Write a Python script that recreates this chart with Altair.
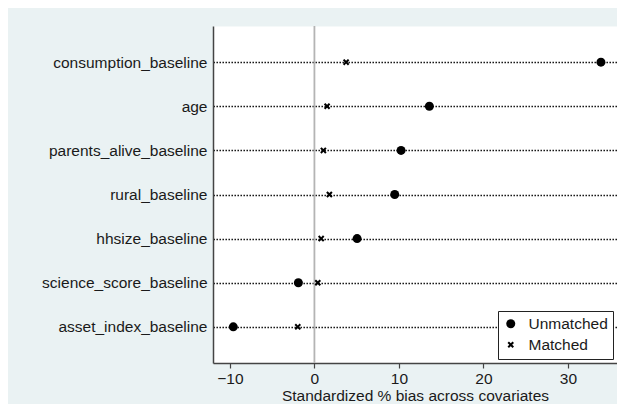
import altair as alt
import pandas as pd

covariates = [
    "consumption_baseline",
    "age",
    "parents_alive_baseline",
    "rural_baseline",
    "hhsize_baseline",
    "science_score_baseline",
    "asset_index_baseline",
]
unmatched = [33.9, 13.6, 10.25, 9.5, 5.05, -1.9, -9.6]
matched = [3.75, 1.5, 1.06, 1.77, 0.8, 0.4, -1.97]
x_ticks = [-10, 0, 10, 20, 30]
samples = ["Unmatched", "Matched"]

rows = []
for c, u, m in zip(covariates, unmatched, matched):
    rows.append({"variable": c, "bias": u, "sample": "Unmatched"})
    rows.append({"variable": c, "bias": m, "sample": "Matched"})
df = pd.DataFrame(rows)

# small bold "x" marker (drawn inside a unit box, so it stays smaller than the circle)
X_PATH = ("M-0.72,-0.4L-0.4,-0.72L0,-0.32L0.4,-0.72L0.72,-0.4L0.32,0L0.72,0.4"
          "L0.4,0.72L0,0.32L-0.4,0.72L-0.72,0.4L-0.32,0Z")

FONT = "Liberation Sans"
FS = 15.5
AXIS_COLOR = "#444444"

xscale = alt.Scale(domain=[-12, 35.8], nice=False, zero=False)

x_enc = alt.X(
    "bias:Q",
    scale=xscale,
    axis=alt.Axis(
        values=x_ticks,
        title="Standardized % bias across covariates",
        grid=False,
        tickSize=5,
        tickColor=AXIS_COLOR,
        tickWidth=1.2,
        domainColor=AXIS_COLOR,
        domainWidth=1.5,
        labelFont=FONT,
        labelFontSize=FS,
        labelColor="#1a1a1a",
        labelPadding=3,
        titleFont=FONT,
        titleFontSize=FS,
        titleFontWeight="normal",
        titleColor="#1a1a1a",
        titlePadding=2,
    ),
)

y_enc = alt.Y(
    "variable:N",
    sort=covariates,
    scale=alt.Scale(type="point", padding=0.82),
    axis=alt.Axis(
        title=None,
        grid=True,
        gridColor="#000000",
        gridDash=[1.4, 1.6],
        gridWidth=1.3,
        ticks=False,
        domainColor=AXIS_COLOR,
        domainWidth=1.5,
        labelFont=FONT,
        labelFontSize=FS,
        labelColor="#1a1a1a",
        labelPadding=6,
    ),
)

zero = alt.Chart(pd.DataFrame({"z": [0]})).mark_rule(
    color="#b4b4b4", strokeWidth=1.8
).encode(x=alt.X("z:Q", scale=xscale))

points = alt.Chart(df).mark_point(
    filled=True, opacity=1, strokeWidth=0, size=81
).encode(
    x=x_enc,
    y=y_enc,
    shape=alt.Shape(
        "sample:N",
        scale=alt.Scale(domain=samples, range=["circle", X_PATH]),
        legend=alt.Legend(
            title=None,
            orient="bottom-right",
            offset=4,
            fillColor="white",
            strokeColor="#222222",
            padding=5,
            labelFont=FONT,
            labelFontSize=FS,
            labelColor="#1a1a1a",
            labelOffset=10,
            labelExpr="datum.label + '\u00a0\u00a0'",
            symbolSize=81,
            symbolFillColor="black",
            symbolStrokeWidth=0,
            symbolOpacity=1,
            rowPadding=4,
        ),
    ),
    color=alt.value("black"),
)

chart = (
    alt.layer(zero, points)
    .properties(
        width=404,
        height=337,
        background="#eaf2f3",
        padding={"left": 205, "top": 18, "right": 0, "bottom": 41},
        autosize=alt.AutoSizeParams(type="none"),
    )
    .configure_view(fill="white", stroke="transparent")
)

chart.save("out.html", embed_options={"renderer": "svg", "actions": False})
